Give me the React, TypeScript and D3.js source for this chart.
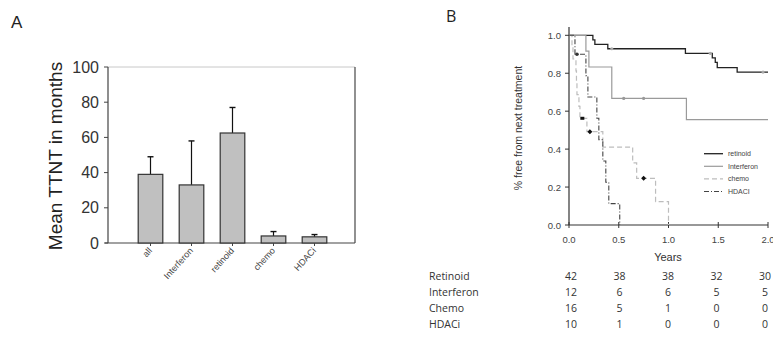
import React from "react";
import * as d3 from "d3";

// Panel A data
const barCategories = ["all", "Interferon", "retinoid", "chemo", "HDACi"];
const barMeans = [39, 33, 62.5, 4, 3.5];
const barErrTops = [49, 58, 77, 6.5, 4.8];
const barYTicks = [0, 20, 40, 60, 80, 100];

// Panel B data (Kaplan-Meier steps)
const retinoidTimes = [0, 0.24, 0.26, 0.39, 1.17, 1.44, 1.47, 1.49, 1.69, 2.0];
const retinoidSurv = [1, 0.976, 0.952, 0.929, 0.905, 0.881, 0.857, 0.83, 0.806, 0.806];
const retinoidCensor = [0.43, 1.42, 1.95];

const interferonTimes = [0, 0.17, 0.2, 0.43, 1.18, 2.0];
const interferonSurv = [1, 0.917, 0.833, 0.667, 0.556, 0.556];
const interferonCensor = [0.55, 0.75];

const chemoTimes = [0, 0.03, 0.04, 0.07, 0.075, 0.08, 0.1, 0.11, 0.18, 0.34, 0.64, 0.68, 0.87, 1.0];
const chemoSurv = [1, 0.9375, 0.875, 0.8125, 0.75, 0.6875, 0.625, 0.5625, 0.492, 0.41, 0.328, 0.246, 0.123, 0];
const chemoCensorSquare = [0.134];
const chemoCensorDiamond = [0.21, 0.75];

const hdacTimes = [0, 0.06, 0.17, 0.19, 0.28, 0.3, 0.34, 0.37, 0.4, 0.51];
const hdacSurv = [1, 0.9, 0.7875, 0.675, 0.5625, 0.45, 0.3375, 0.225, 0.1125, 0];
const hdacCensor = [0.08];

const kmXTicks = [0, 0.5, 1.0, 1.5, 2.0];
const kmYTicks = [0, 0.2, 0.4, 0.6, 0.8, 1.0];

const legendLabels = ["retinoid", "Interferon", "chemo", "HDACI"];

const tableRows = ["Retinoid", "Interferon", "Chemo", "HDACi"];
const retinoidAtRisk = [42, 38, 38, 32, 30];
const interferonAtRisk = [12, 6, 6, 5, 5];
const chemoAtRisk = [16, 5, 1, 0, 0];
const hdacAtRisk = [10, 1, 0, 0, 0];

function stepAt(times: number[], surv: number[], t: number) {
  let s = surv[0];
  for (let i = 0; i < times.length; i++) if (times[i] <= t) s = surv[i];
  return s;
}

export default function App() {
  // Panel A scales
  const yA = d3.scaleLinear().domain([0, 100]).range([243, 67]);
  const xA = d3.scaleBand().domain(barCategories).range([130, 335]).paddingInner(0.4).paddingOuter(0.2);
  const bw = xA.bandwidth();

  // Panel B scales
  const xB = d3.scaleLinear().domain([0, 2]).range([569, 768]);
  const yB = d3.scaleLinear().domain([0, 1]).range([225, 35.3]);
  const line = d3
    .line<[number, number]>()
    .x((d) => xB(d[0]))
    .y((d) => yB(d[1]))
    .curve(d3.curveStepAfter);
  const mk = (t: number[], s: number[]) => line(t.map((v, i) => [v, s[i]] as [number, number])) || "";

  const series = [
    { t: retinoidTimes, s: retinoidSurv, color: "#222", dash: "", w: 1.3 },
    { t: interferonTimes, s: interferonSurv, color: "#9a9a9a", dash: "", w: 1.2 },
    { t: chemoTimes, s: chemoSurv, color: "#bdbdbd", dash: "5,3", w: 1.2 },
    { t: hdacTimes, s: hdacSurv, color: "#444", dash: "5,2,1,2", w: 1.1 },
  ];

  const tableX = d3.scaleLinear().domain([0, 4]).range([571, 765]);
  const atRisk = [retinoidAtRisk, interferonAtRisk, chemoAtRisk, hdacAtRisk];

  return (
    <svg width={773} height={337} style={{ position: "absolute", left: 0, top: 0, background: "#fff" }}>
      {/* Panel A */}
      <text x={11} y={28} fontFamily="Liberation Sans, Arial, sans-serif" fontSize={17} fill="#222">A</text>
      <text
        transform={`translate(62,156) rotate(-90)`}
        textAnchor="middle"
        fontFamily="Liberation Sans, Arial, sans-serif"
        fontSize={19}
        fill="#222"
      >
        Mean TTNT in months
      </text>
      {/* frame */}
      <line x1={108} x2={355} y1={67} y2={67} stroke="#c8c8c8" strokeWidth={1} />
      <line x1={355} x2={355} y1={67} y2={243} stroke="#555" strokeWidth={1.3} />
      <line x1={108} x2={108} y1={67} y2={243} stroke="#444" strokeWidth={1.2} />
      <line x1={105} x2={355} y1={243} y2={243} stroke="#444" strokeWidth={1.2} />
      {barYTicks.map((v) => (
        <g key={v}>
          <line x1={104} x2={108} y1={yA(v)} y2={yA(v)} stroke="#444" />
          <text x={99} y={yA(v) + 5.5} textAnchor="end" fontFamily="Liberation Sans, Arial, sans-serif" fontSize={16} fill="#333">
            {v}
          </text>
        </g>
      ))}
      {barCategories.map((c, i) => {
        const x0 = xA(c)!;
        const cx = x0 + bw / 2;
        return (
          <g key={c}>
            <line x1={cx} x2={cx} y1={yA(barMeans[i])} y2={yA(barErrTops[i])} stroke="#111" strokeWidth={1.2} />
            <line x1={cx - 3} x2={cx + 3} y1={yA(barErrTops[i])} y2={yA(barErrTops[i])} stroke="#111" strokeWidth={1.4} />
            <rect x={x0} y={yA(barMeans[i])} width={bw} height={yA(0) - yA(barMeans[i])} fill="#c0c0c0" stroke="#333" strokeWidth={1.2} />
            <line x1={cx} x2={cx} y1={243} y2={246} stroke="#444" />
            <text
              transform={`translate(${cx + 2},${251}) rotate(-48)`}
              textAnchor="end"
              fontFamily="Liberation Sans, Arial, sans-serif"
              fontSize={9}
              fill="#444"
            >
              {c}
            </text>
          </g>
        );
      })}

      {/* Panel B */}
      <text x={446} y={22} fontFamily="Open Sans, sans-serif" fontSize={16} fill="#222">B</text>
      <text
        transform={`translate(522,128) rotate(-90)`}
        textAnchor="middle"
        fontFamily="Liberation Sans, Arial, sans-serif"
        fontSize={10.5}
        fill="#333"
      >
        % free from next treatment
      </text>
      <line x1={569} x2={569} y1={27} y2={225} stroke="#333" strokeWidth={1.2} />
      <line x1={569} x2={768} y1={225} y2={225} stroke="#333" strokeWidth={1.2} />
      {kmYTicks.map((v) => (
        <g key={v}>
          <line x1={565} x2={569} y1={yB(v)} y2={yB(v)} stroke="#333" />
          <text x={561} y={yB(v) + 3.5} textAnchor="end" fontFamily="Liberation Sans, Arial, sans-serif" fontSize={9.5} fill="#444">
            {v.toFixed(1)}
          </text>
        </g>
      ))}
      {kmXTicks.map((v) => (
        <g key={v}>
          <line x1={xB(v)} x2={xB(v)} y1={222} y2={228} stroke="#333" />
          <text x={xB(v)} y={243} textAnchor="middle" fontFamily="Liberation Sans, Arial, sans-serif" fontSize={9.5} fill="#444">
            {v.toFixed(1)}
          </text>
        </g>
      ))}
      <text x={668} y={261} textAnchor="middle" fontFamily="Liberation Sans, Arial, sans-serif" fontSize={11} fill="#333">
        Years
      </text>

      {series.map((sr, i) => (
        <path key={i} d={mk(sr.t, sr.s)} fill="none" stroke={sr.color} strokeWidth={sr.w} strokeDasharray={sr.dash} />
      ))}
      {retinoidCensor.map((t) => (
        <circle key={"r" + t} cx={xB(t)} cy={yB(stepAt(retinoidTimes, retinoidSurv, t))} r={1.6} fill="#aaa" />
      ))}
      {interferonCensor.map((t) => (
        <circle key={"i" + t} cx={xB(t)} cy={yB(stepAt(interferonTimes, interferonSurv, t))} r={1.6} fill="#999" />
      ))}
      {hdacCensor.map((t) => (
        <circle key={"h" + t} cx={xB(t)} cy={yB(stepAt(hdacTimes, hdacSurv, t))} r={1.8} fill="#333" />
      ))}
      {chemoCensorSquare.map((t) => (
        <rect key={"cs" + t} x={xB(t) - 2} y={yB(stepAt(chemoTimes, chemoSurv, t)) - 1.5} width={4} height={3} fill="#111" />
      ))}
      {chemoCensorDiamond.map((t) => {
        const cx = xB(t);
        const cy = yB(stepAt(chemoTimes, chemoSurv, t));
        return <path key={"cd" + t} d={`M${cx},${cy - 2.5}L${cx + 2.5},${cy}L${cx},${cy + 2.5}L${cx - 2.5},${cy}Z`} fill="#111" />;
      })}

      {/* Legend */}
      {legendLabels.map((l, i) => {
        const y = 153.7 + i * 12.6;
        return (
          <g key={l}>
            <line x1={704} x2={723} y1={y} y2={y} stroke={series[i].color} strokeWidth={series[i].w} strokeDasharray={series[i].dash} />
            <text x={728} y={y + 2.5} fontFamily="Liberation Sans, Arial, sans-serif" fontSize={7} fill="#444">
              {l}
            </text>
          </g>
        );
      })}

      {/* At-risk table */}
      {tableRows.map((r, i) => {
        const y = 280 + i * 16;
        return (
          <g key={r}>
            <text x={429} y={y} fontFamily="Open Sans, sans-serif" fontSize={10.5} fill="#333">
              {r}
            </text>
            {atRisk[i].map((n, j) => (
              <text key={j} x={tableX(j)} y={y} textAnchor="middle" fontFamily="Open Sans, sans-serif" fontSize={10.5} fill="#333">
                {n}
              </text>
            ))}
          </g>
        );
      })}
    </svg>
  );
}
